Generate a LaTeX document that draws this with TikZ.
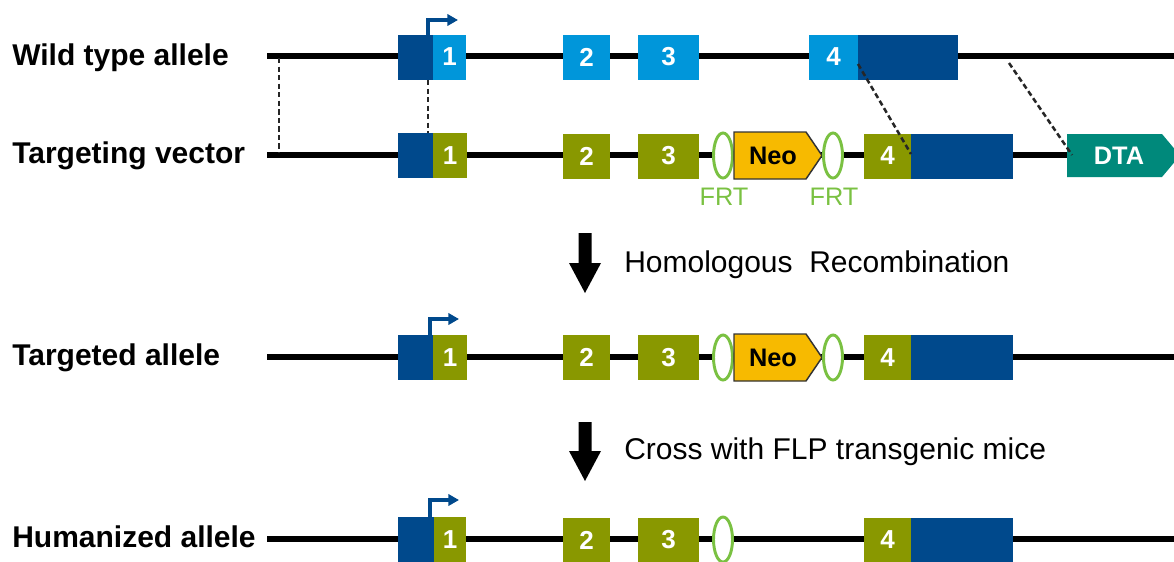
\documentclass[tikz,border=0pt]{standalone}
\usepackage{fontspec}
\setmainfont{Liberation Sans}
\usetikzlibrary{arrows.meta,shapes.geometric}
\newcommand\pxu{0.75pt}
\definecolor{utrblue}{RGB}{0,73,140}
\definecolor{wtblue}{RGB}{0,150,218}
\definecolor{humolive}{RGB}{137,152,0}
\definecolor{neoyellow}{RGB}{247,186,0}
\definecolor{dtateal}{RGB}{0,137,123}
\definecolor{frtgreen}{RGB}{122,193,66}
\tikzset{
  allele/.style={line width=4.5pt, black},
  rowtitle/.style={anchor=base west, inner sep=0pt, font=\bfseries\fontsize{22.5pt}{24pt}\selectfont},
  steptext/.style={anchor=base west, inner sep=0pt, font=\fontsize{22.5pt}{24pt}\selectfont},
  box/.style={rectangle, inner sep=0pt, minimum height=45*\pxu, text=white,
    font=\bfseries\fontsize{19.5pt}{20pt}\selectfont},
  utr/.style={box, fill=utrblue},
  wtexon/.style={box, fill=wtblue},
  huexon/.style={box, fill=humolive},
  frt/.style={ellipse, draw=frtgreen, line width=2.2pt, fill=white, inner sep=0pt,
    minimum width=19*\pxu, minimum height=45*\pxu},
  frtlabel/.style={anchor=base, inner sep=0pt, text=frtgreen, font=\fontsize{19pt}{20pt}\selectfont},
  neo/.style={fill=neoyellow, draw=black!80, line width=1.1pt, line join=miter},
  cassette/.style={inner sep=0pt, font=\bfseries\fontsize{19pt}{20pt}\selectfont},
  homol/.style={black!85, line width=1.9pt, dash pattern=on 4pt off 2.4pt},
  prom/.style={utrblue, line width=2.3pt, -{Triangle[length=8pt,width=8.5pt]}},
  bigarrow/.style={fill=black}
}
\begin{document}
\begin{tikzpicture}[x=0.75pt, y=-0.75pt]
\useasboundingbox (0,0) rectangle (1174,561);

% ---------------- row titles
\node[rowtitle] (t1) at (12,65) {Wild type allele};
\node[rowtitle] (t2) at (12,163) {Targeting vector};
\node[rowtitle] (t3) at (12,365) {Targeted allele};
\node[rowtitle] (t4) at (12,547) {Humanized allele};

% ---------------- wild type allele
\draw[allele] (267,56) -- (1180,56);
\node[utr, minimum width=35*\pxu] (wu5) at (415.5,57) {};
\node[wtexon, minimum width=33*\pxu] (w1) at (449.5,57) {1};
\node[wtexon, minimum width=47*\pxu] (w2) at (586.5,57) {2};
\node[wtexon, minimum width=61*\pxu] (w3) at (668.5,57) {3};
\node[wtexon, minimum width=49*\pxu] (w4) at (833.5,57) {4};
\node[utr, minimum width=100*\pxu] (wu3) at (908,57) {};
\draw[prom] (428,35) |- (458,20);

% ---------------- targeting vector
\draw[allele] (267,155) -- (1070,155);
\node[utr, minimum width=35*\pxu] (vu5) at (415.5,155.5) {};
\node[huexon, minimum width=34*\pxu] (v1) at (450,155.5) {1};
\node[huexon, minimum width=47*\pxu] (v2) at (586.5,156) {2};
\node[huexon, minimum width=61*\pxu] (v3) at (668.5,156) {3};
\node[frt] (vf1) at (723,155.5) {};
\draw[neo] (734,132) -- (806,132) -- (822,155.5) -- (806,179) -- (734,179) -- cycle;
\node[cassette] (vneo) at (773,155.5) {Neo};
\node[frt] (vf2) at (833,155.5) {};
\node[huexon, minimum width=47*\pxu] (v4) at (887.5,156) {4};
\node[utr, minimum width=102*\pxu] (vu3) at (962,156) {};
\fill[dtateal] (1067,134) -- (1162,134) -- (1180,155.5) -- (1162,177) -- (1067,177) -- cycle;
\node[cassette, text=white] (dta) at (1119,156) {DTA};
\node[frtlabel] (l1) at (724,205) {FRT};
\node[frtlabel] (l2) at (834,205) {FRT};

% homology arms
\coordinate (hA) at (279,58);
\coordinate (hB) at (279,153);
\coordinate (hC) at (428,80);
\coordinate (hD) at (428,133);
\coordinate (hE) at (858,64);
\coordinate (hF) at (911,154);
\coordinate (hG) at (1009,63);
\coordinate (hH) at (1072,155);
\draw[homol] (hA) -- (hB);
\draw[homol] (hC) -- (hD);
\draw[homol] (hE) -- (hF);
\draw[homol] (hG) -- (hH);

% ---------------- step 1
\fill[bigarrow] (578.5,233) -- (591.5,233) -- (591.5,263) -- (601,263) -- (585,293)
  -- (569,263) -- (578.5,263) -- cycle;
\node[steptext] (s1) at (624,272) {Homologous\ \ Recombination};

% ---------------- targeted allele
\draw[allele] (267,357) -- (1180,357);
\node[utr, minimum width=35*\pxu] (tu5) at (415.5,357.5) {};
\node[huexon, minimum width=34*\pxu] (ta1) at (450,357.5) {1};
\node[huexon, minimum width=47*\pxu] (ta2) at (586.5,357.5) {2};
\node[huexon, minimum width=61*\pxu] (ta3) at (668.5,357.5) {3};
\node[frt] (tf1) at (723,357.5) {};
\draw[neo] (734,334) -- (806,334) -- (822,357.5) -- (806,381) -- (734,381) -- cycle;
\node[cassette] (tneo) at (773,357.5) {Neo};
\node[frt] (tf2) at (833,357.5) {};
\node[huexon, minimum width=47*\pxu] (ta4) at (887.5,357.5) {4};
\node[utr, minimum width=102*\pxu] (tu3) at (962,357.5) {};
\draw[prom] (430,335) |- (459,319);

% ---------------- step 2
\fill[bigarrow] (578.5,422) -- (591.5,422) -- (591.5,451) -- (601,451) -- (585,481)
  -- (569,451) -- (578.5,451) -- cycle;
\node[steptext] (s2) at (624,459) {Cross with FLP transgenic mice};

% ---------------- humanized allele
\draw[allele] (267,539) -- (1180,539);
\node[utr, minimum width=36*\pxu] (hu5) at (416,539.5) {};
\node[huexon, minimum width=32*\pxu] (h1) at (450,539.5) {1};
\node[huexon, minimum width=47*\pxu] (h2) at (586.5,540) {2};
\node[huexon, minimum width=61*\pxu] (h3) at (668.5,540) {3};
\node[frt] (hf1) at (723,539.5) {};
\node[huexon, minimum width=47*\pxu] (h4) at (887.5,540) {4};
\node[utr, minimum width=102*\pxu] (hu3) at (962,540) {};
\draw[prom] (430,517) |- (459,500);
\end{tikzpicture}
\end{document}
